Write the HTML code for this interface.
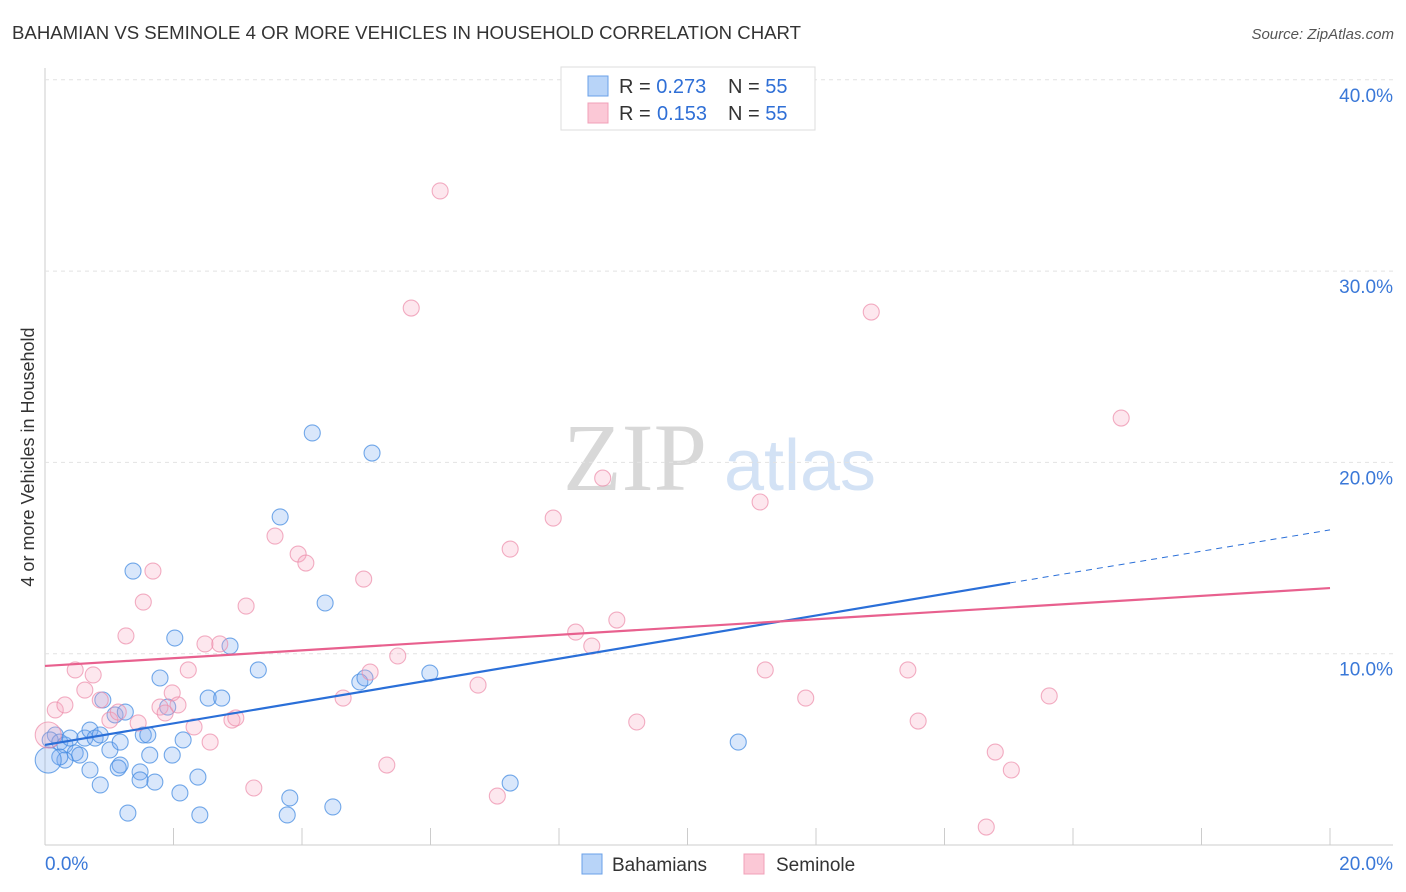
<!DOCTYPE html>
<html><head><meta charset="utf-8"><style>
body{margin:0;background:#fff;font-family:"Liberation Sans",sans-serif;}
#wrap{position:relative;width:1406px;height:892px;overflow:hidden;}
</style></head><body>
<div id="wrap">
<svg id="svg" width="1406" height="892" xmlns="http://www.w3.org/2000/svg">
<text x="12" y="39" font-size="18" fill="#333" textLength="789" lengthAdjust="spacingAndGlyphs">BAHAMIAN VS SEMINOLE 4 OR MORE VEHICLES IN HOUSEHOLD CORRELATION CHART</text>
<text x="1394" y="39" font-size="15" fill="#555" font-style="italic" text-anchor="end">Source: ZipAtlas.com</text>
<text x="635" y="490" font-size="96" fill="#d8d8d8" font-family="Liberation Serif,serif" text-anchor="middle">ZIP</text>
<text x="800" y="490" font-size="72" fill="#d3e2f5" text-anchor="middle">atlas</text>
<g id="grid"></g><g id="pts"></g><g id="lines"></g>
<text transform="translate(34,457) rotate(-90)" font-size="18" fill="#333" text-anchor="middle">4 or more Vehicles in Household</text>
<g>
<rect x="561" y="67" width="254" height="63" fill="#fff" stroke="#ddd"/>
<rect x="588" y="76" width="20" height="20" fill="#b8d4f8" stroke="#6aa0e8"/>
<rect x="588" y="103" width="20" height="20" fill="#fbc8d6" stroke="#f0a0b8"/>
<text x="619" y="93" font-size="20" fill="#333">R = <tspan fill="#2f6fd6">0.273</tspan><tspan x="728">N = </tspan><tspan fill="#2f6fd6">55</tspan></text>
<text x="619" y="120" font-size="20" fill="#333">R = <tspan fill="#2f6fd6" x="657">0.153</tspan><tspan x="728">N = </tspan><tspan fill="#2f6fd6">55</tspan></text>
</g>
<g>
<rect x="582" y="854" width="20" height="20" fill="#b8d4f8" stroke="#6aa0e8"/>
<text x="612" y="871" font-size="19" fill="#333">Bahamians</text>
<rect x="744" y="854" width="20" height="20" fill="#fbc8d6" stroke="#f0a0b8"/>
<text x="776" y="871" font-size="19" fill="#333">Seminole</text>
</g>
</svg></div>
<script>
const xTicks=[0,20];
const yTicks=[10,20,30,40];
const blueX=[0.16,0.08,0.23,0.31,0.39,0.47,0.54,0.62,0.70,0.78,0.86,0.31,0.70,0.86,0.90,1.01,1.09,1.17,1.25,1.29,1.37,1.48,1.53,1.63,1.71,1.79,1.91,2.02,2.10,2.15,2.38,2.41,2.54,2.75,2.88,3.32,3.66,3.81,3.77,4.16,4.36,4.48,4.90,4.98,5.09,5.99,7.24,10.79,1.17,1.14,0.23,1.98,1.60,0.05,1.48];
const blueY=[5.75,5.49,5.38,5.23,5.59,4.81,4.70,5.59,6.01,5.59,5.75,4.44,3.92,3.14,7.58,4.97,6.80,4.18,6.95,1.67,14.32,3.82,5.75,4.70,3.29,8.73,7.21,10.82,2.72,5.49,3.55,1.57,7.68,7.68,10.40,9.15,17.15,2.46,1.57,21.54,12.65,1.99,8.52,8.73,20.49,8.99,3.24,5.38,5.38,4.03,4.60,4.70,5.75,4.44,3.40];
const blueR=[8,8,8,8,8,8,8,8,8,8,8,8,8,8,8,8,8,8,8,8,8,8,8,8,8,8,8,8,8,8,8,8,8,8,8,8,8,8,8,8,8,8,8,8,8,8,8,8,8,8,8,8,8,13,8];
const pinkX=[0.05,0.16,0.31,0.47,0.62,0.75,0.86,1.01,1.14,1.26,1.45,1.53,1.68,1.79,1.87,1.98,2.07,2.23,2.32,2.49,2.57,2.72,2.91,2.97,3.13,3.25,3.58,3.94,4.06,4.64,4.96,5.06,5.32,5.49,5.70,6.15,6.74,7.04,7.24,7.91,8.26,8.51,8.68,8.90,9.21,11.13,11.21,11.84,12.86,13.43,13.59,14.79,15.04,14.65,15.63,16.75];
const pinkY=[5.75,7.06,7.32,9.15,8.10,8.89,7.58,6.53,6.95,10.93,6.38,12.70,14.32,7.21,6.90,7.95,7.32,9.15,6.17,10.51,5.38,10.51,6.53,6.64,12.49,2.98,16.15,15.21,14.74,7.68,13.90,9.04,4.18,9.88,28.07,34.19,8.36,2.56,15.47,17.09,11.13,10.40,19.18,11.76,6.43,17.93,9.15,7.68,27.86,9.15,6.48,4.86,3.92,0.94,7.79,22.32];
const pinkR=[13,8,8,8,8,8,8,8,8,8,8,8,8,8,8,8,8,8,8,8,8,8,8,8,8,8,8,8,8,8,8,8,8,8,8,8,8,8,8,8,8,8,8,8,8,8,8,8,8,8,8,8,8,8,8,8];
const blueTrend=[5.23,16.47];
const blueSolidEnd=[15.02,13.70];
const pinkTrend=[9.36,13.43];
const NS="http://www.w3.org/2000/svg";
const X=v=>45+v/20*1285, Y=v=>845-v*19.13;
function mk(t,a,p){const e=document.createElementNS(NS,t);for(const k in a)e.setAttribute(k,a[k]);p.appendChild(e);return e;}
const grid=document.getElementById('grid'),pts=document.getElementById('pts'),lines=document.getElementById('lines');
let ax=mk('line',{x1:45,y1:68,x2:45,y2:845,stroke:'#ccc'},grid);


let bx=mk('line',{x1:45,y1:845,x2:1393,y2:845,stroke:'#ccc'},grid);


yTicks.forEach(t=>{
 const g=mk('line',{x1:45,y1:Y(t),x2:1393,y2:Y(t),stroke:'#e2e2e2','stroke-dasharray':'4,4'},grid);
 
 
 const l=mk('text',{x:1393,y:Y(t)+22,'font-size':19,fill:'#3a78d8','text-anchor':'end'},grid);l.textContent=t.toFixed(1)+'%';
 
 
});
for(let i=0;i<=10;i++){const tk=mk('line',{x1:X(i*2),y1:828,x2:X(i*2),y2:845,stroke:'#ccc'},grid);
 
 }
xTicks.forEach((t,i)=>{const l=mk('text',{x:i?1393:45,y:870,'font-size':19,fill:'#3a78d8','text-anchor':i?'end':'start'},grid);l.textContent=t.toFixed(1)+'%';
 
 });
blueX.forEach((v,i)=>{const c=mk('circle',{cx:X(v),cy:Y(blueY[i]),r:blueR[i],fill:'rgba(120,170,240,0.28)',stroke:'rgba(70,140,225,0.75)','stroke-width':1.1},pts);
 
 });
pinkX.forEach((v,i)=>{const c=mk('circle',{cx:X(v),cy:Y(pinkY[i]),r:pinkR[i],fill:'rgba(248,170,195,0.28)',stroke:'rgba(236,140,170,0.7)','stroke-width':1.1},pts);
 
 });
let l1=mk('line',{x1:X(0),y1:Y(blueTrend[0]),x2:X(blueSolidEnd[0]),y2:Y(blueSolidEnd[1]),stroke:'#2a6fd8','stroke-width':2.2},lines);


let l2=mk('line',{x1:X(blueSolidEnd[0]),y1:Y(blueSolidEnd[1]),x2:X(20),y2:Y(blueTrend[1]),stroke:'#2a6fd8','stroke-width':1,'stroke-dasharray':'6,5'},lines);


let l3=mk('line',{x1:X(0),y1:Y(pinkTrend[0]),x2:X(20),y2:Y(pinkTrend[1]),stroke:'#e8608e','stroke-width':2.2},lines);


</script>
</body></html>
